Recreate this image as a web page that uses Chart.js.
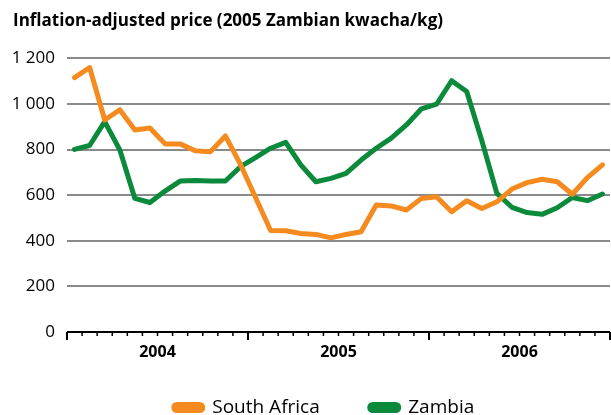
<!DOCTYPE html>
<html>
<head>
<meta charset="utf-8">
<script src="https://cdn.jsdelivr.net/npm/chart.js@4.4.0/dist/chart.umd.min.js"></script>
<style>
  html, body { margin: 0; padding: 0; background: #fff; }
  #wrap { width: 611px; height: 415px; }
</style>
</head>
<body>
<div id="wrap"><canvas id="priceChart"></canvas></div>
<script>
const months = [
  'Jan 2004','Feb 2004','Mar 2004','Apr 2004','May 2004','Jun 2004','Jul 2004','Aug 2004','Sep 2004','Oct 2004','Nov 2004','Dec 2004',
  'Jan 2005','Feb 2005','Mar 2005','Apr 2005','May 2005','Jun 2005','Jul 2005','Aug 2005','Sep 2005','Oct 2005','Nov 2005','Dec 2005',
  'Jan 2006','Feb 2006','Mar 2006','Apr 2006','May 2006','Jun 2006','Jul 2006','Aug 2006','Sep 2006','Oct 2006','Nov 2006','Dec 2006'
];
const years = ['2004', '2005', '2006'];

const southAfrica = [1116, 1160, 930, 975, 886, 895, 825, 825, 795, 790, 860, 735,
                     590, 445, 444, 432, 428, 413, 428, 440, 557, 553, 535, 586,
                     593, 527, 576, 542, 571, 627, 655, 670, 659, 604, 677, 733];
const zambia = [801, 818, 923, 799, 586, 568, 618, 662, 665, 662, 662, 725,
                765, 806, 832, 733, 659, 674, 696, 754, 806, 850, 908, 979,
                999, 1102, 1055, 840, 608, 547, 524, 516, 545, 590, 576, 605];

const yTicks = [0, 200, 400, 600, 800, 1000, 1200];

const ORANGE = '#f58a1f';
const GREEN = '#0a8a3a';
const FONT = '"Open Sans", "Noto Sans", sans-serif';

// 月の目盛りと年ラベルを描く
const monthAxis = {
  id: 'monthAxis',
  afterLayout(chart) {
    // 凡例とタイトルの位置を微調整
    if (chart.legend) { chart.legend.left += 15; chart.legend.right += 15; }
    if (chart.titleBlock) { chart.titleBlock.left += 5; chart.titleBlock.right += 5; }
  },
  afterDraw(chart) {
    const { ctx, chartArea, scales: { x, y } } = chart;
    const y0 = y.getPixelForValue(0);
    const half = (x.getPixelForValue(1) - x.getPixelForValue(0)) / 2;
    ctx.save();
    ctx.strokeStyle = '#000';
    ctx.lineWidth = 2;
    ctx.beginPath();
    ctx.moveTo(chartArea.left, y0);
    ctx.lineTo(chartArea.right, y0);
    ctx.stroke();
    for (let i = 0; i <= months.length; i++) {
      const px = i < months.length ? x.getPixelForValue(i) - half : x.getPixelForValue(i - 1) + half;
      const major = i % 12 === 0;
      ctx.lineWidth = major ? 2 : 1.5;
      ctx.beginPath();
      ctx.moveTo(px, y0);
      ctx.lineTo(px, y0 + (major ? 8 : 4));
      ctx.stroke();
    }
    ctx.fillStyle = '#000';
    ctx.font = 'bold 16px ' + FONT;
    ctx.textAlign = 'center';
    ctx.textBaseline = 'middle';
    years.forEach((yr, k) => {
      const a = x.getPixelForValue(k * 12) - half;
      const b = x.getPixelForValue(k * 12 + 11) + half;
      ctx.fillText(yr, (a + b) / 2, y0 + 20);
    });
    ctx.restore();
  }
};

const ctx = document.getElementById('priceChart').getContext('2d');
new Chart(ctx, {
  type: 'line',
  data: {
    labels: months,
    datasets: [
      { label: 'South Africa', data: southAfrica, borderColor: ORANGE, backgroundColor: ORANGE,
        borderWidth: 5, pointRadius: 0, tension: 0, borderJoinStyle: 'round', borderCapStyle: 'round' },
      { label: 'Zambia', data: zambia, borderColor: GREEN, backgroundColor: GREEN,
        borderWidth: 5, pointRadius: 0, tension: 0, borderJoinStyle: 'round', borderCapStyle: 'round' }
    ]
  },
  options: {
    responsive: true,
    maintainAspectRatio: false,
    animation: false,
    layout: { padding: { left: 8, right: 1, bottom: -12 } },
    scales: {
      x: {
        offset: true,
        grid: { display: false },
        border: { display: false },
        ticks: { display: false },
        afterFit: (scale) => { scale.height = 16; }
      },
      y: {
        min: 0,
        max: 1200,
        afterBuildTicks: (scale) => { scale.ticks = yTicks.map(v => ({ value: v })); },
        grid: {
          drawTicks: false,
          color: (c) => c.tick && c.tick.value === 0 ? 'rgba(0,0,0,0)' : '#8a8a8a',
          lineWidth: 2
        },
        border: { display: false },
        ticks: {
          color: '#000',
          padding: 12,
          font: { family: FONT, size: 17 },
          callback: (v) => String(v).replace(/\B(?=(\d{3})+(?!\d))/g, ' ')
        },
        afterFit: (scale) => { scale.width = 59; }
      }
    },
    plugins: {
      title: {
        display: true,
        text: 'Inflation-adjusted price (2005 Zambian kwacha/kg)',
        align: 'start',
        color: '#000',
        font: { family: FONT, size: 17, weight: 'bold' },
        padding: { top: 11, bottom: 27 }
      },
      legend: {
        position: 'bottom',
        labels: {
          color: '#000',
          font: { family: FONT, size: 19 },
          boxWidth: 29,
          boxHeight: 6,
          useBorderRadius: true,
          borderRadius: 3,
          padding: 50
        }
      },
      tooltip: { enabled: false }
    }
  },
  plugins: [monthAxis]
});
</script>
</body>
</html>
